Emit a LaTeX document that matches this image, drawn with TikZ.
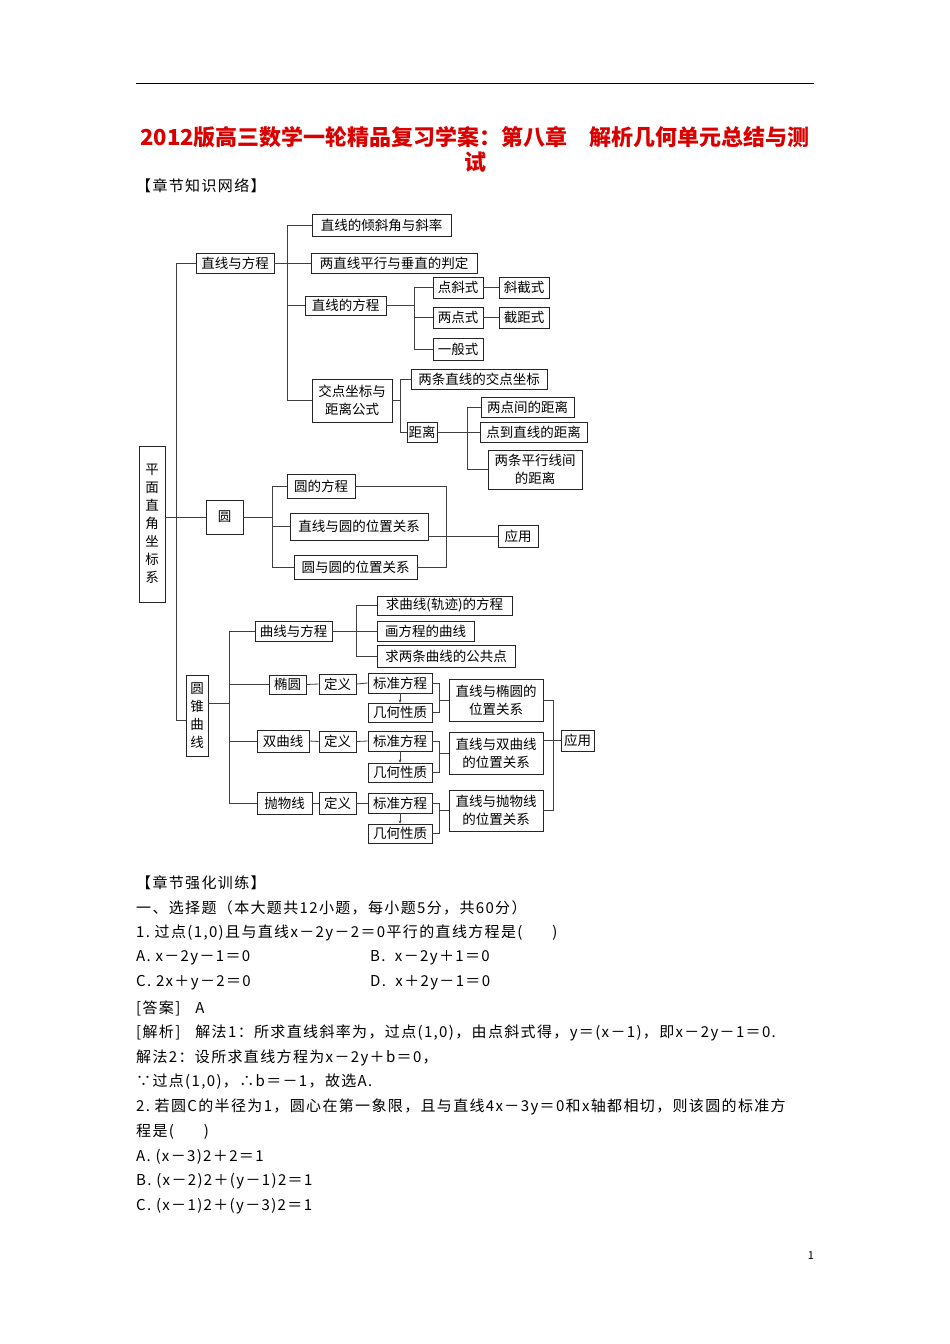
\documentclass[tikz,border=0pt]{standalone}
\usepackage{fontspec}
\setmainfont{Noto Sans CJK SC}
\newfontfamily\cjk{Noto Sans CJK SC}
\newfontfamily\cjkb{Noto Sans CJK SC}[LetterSpace=9]
\usetikzlibrary{arrows.meta}
\newcommand\B[6]{\node[bx,minimum width={(#4-#2)*1pt},minimum height={(#5-#3)*1pt}] (#1) at ({(#2+#4)/2},{(#3+#5)/2}) {#6};}
\begin{document}
\begin{tikzpicture}[x=1pt,y=-1pt,
  bx/.style={draw=black!85,line width=0.9pt,inner sep=1pt,align=center,font=\cjk\fontsize{13.5}{18}\selectfont},
  ln/.style={draw=black!75,line width=0.8pt},
  tx/.style={anchor=west,inner sep=0pt,font=\cjkb\fontsize{15}{16}\selectfont}]
\useasboundingbox (0,0) rectangle (950,1344);
\draw[line width=0.8pt] (136,83) -- (814,83);
\node[font=\cjk\fontsize{22}{24}\selectfont\bfseries,text=red!85!black,inner sep=0pt] (t1) at (475,137) {2012版高三数学一轮精品复习学案：第八章\quad 解析几何单元总结与测};
\node[font=\cjk\fontsize{22}{24}\selectfont\bfseries,text=red!85!black,inner sep=0pt] (t2) at (475,162) {试};
\node[tx] (h1) at (136,186) {【章节知识网络】};
% boxes
\B{PM}{139}{446}{165}{602}{平\\面\\直\\角\\坐\\标\\系}
\B{ZX}{196}{253}{274}{273}{直线与方程}
\B{Q1}{312}{214}{451}{236}{直线的倾斜角与斜率}
\B{Q2}{311}{253}{477}{273}{两直线平行与垂直的判定}
\B{FC}{305}{296}{386}{315}{直线的方程}
\B{DX}{433}{277}{483}{298}{点斜式}
\B{XJ}{499}{277}{549}{298}{斜截式}
\B{LD}{433}{307}{483}{328}{两点式}
\B{JJ}{499}{307}{549}{328}{截距式}
\B{YB}{433}{338}{483}{360}{一般式}
\B{JD}{312}{379}{392}{422}{交点坐标与\\距离公式}
\B{JL}{411}{369}{547}{389}{两条直线的交点坐标}
\B{JLs}{407}{422}{437}{442}{距离}
\B{D1}{481}{397}{574}{417}{两点间的距离}
\B{D2}{480}{422}{587}{442}{点到直线的距离}
\B{D3}{488}{450}{582}{489}{两条平行线间\\的距离}
\B{Y}{206}{500}{243}{534}{圆}
\B{Y1}{287}{474}{355}{498}{圆的方程}
\B{Y2}{290}{513}{428}{540}{直线与圆的位置关系}
\B{Y3}{294}{555}{417}{579}{圆与圆的位置关系}
\B{YY}{498}{525}{538}{547}{应用}
\B{ZZ}{186}{675}{208}{756}{圆\\锥\\曲\\线}
\B{QF}{255}{621}{332}{641}{曲线与方程}
\B{C1}{377}{596}{512}{615}{求曲线(轨迹)的方程}
\B{C2}{377}{621}{474}{641}{画方程的曲线}
\B{C3}{377}{645}{515}{667}{求两条曲线的公共点}
\B{TY}{269}{675}{306}{694}{椭圆}
\B{SQ}{257}{730}{309}{752}{双曲线}
\B{PW}{257}{792}{312}{814}{抛物线}
\B{DA}{319}{674}{356}{694}{定义}
\B{DB}{319}{731}{356}{752}{定义}
\B{DC}{319}{792}{356}{814}{定义}
\B{BA}{368}{673}{432}{693}{标准方程}
\B{BB}{368}{731}{432}{751}{标准方程}
\B{BC}{368}{793}{432}{813}{标准方程}
\B{GA}{368}{703}{432}{722}{几何性质}
\B{GB}{368}{763}{432}{782}{几何性质}
\B{GC}{368}{824}{432}{843}{几何性质}
\B{ZA}{449}{679}{543}{721}{直线与椭圆的\\位置关系}
\B{ZB}{449}{732}{543}{774}{直线与双曲线\\的位置关系}
\B{ZC}{449}{790}{543}{831}{直线与抛物线\\的位置关系}
\B{YY2}{561}{730}{594}{751}{应用}
% connectors
\coordinate (v0) at (176,0); \coordinate (v1) at (287,0); \coordinate (v2) at (414,0);
\coordinate (v3) at (400,0); \coordinate (v4) at (467,0); \coordinate (v5) at (272,0);
\coordinate (v6) at (446,0); \coordinate (v7) at (229,0); \coordinate (v8) at (356,0);
\coordinate (v9) at (439,0); \coordinate (v10) at (553,0);
\coordinate (ze) at ([yshift=12.5pt]ZZ.east);
\coordinate (zw) at ([yshift=-4.5pt]ZZ.west);
\draw[ln] (ZX.west) -| (v0|-zw) -- (zw);
\draw[ln] (PM.east|-Y.west) -- (Y.west);
\draw[ln] (Q1.west) -| (v1|-JD.west) -- (JD.west);
\draw[ln] (ZX.east) -- (Q2.west);
\draw[ln] (FC.west) -- (v1|-FC.west);
\draw[ln] (DX.west) -| (v2|-YB.west) -- (YB.west);
\draw[ln] (FC.east) -- (v2|-FC.east);
\draw[ln] (LD.west) -- (v2|-LD.west);
\draw[ln] (DX.east) -- (XJ.west); \draw[ln] (LD.east) -- (JJ.west);
\draw[ln] (JL.west) -| (v3|-JLs.west) -- (JLs.west);
\draw[ln] (JD.east) -- (v3|-JD.east);
\draw[ln] (D1.west) -| (v4|-D3.west) -- (D3.west);
\draw[ln] (JLs.east) -- (D2.west);
\draw[ln] (Y1.west) -| (v5|-Y3.west) -- (Y3.west);
\draw[ln] (Y.east) -- (v5|-Y.east);
\draw[ln] (v5|-Y2.west) -- (Y2.west);
\draw[ln] (Y1.east) -| (v6|-Y3.east) -- (Y3.east);
\draw[ln] (Y2.east|-YY.west) -- (YY.west);
\draw[ln] (QF.west) -| (v7|-PW.west) -- (PW.west);
\draw[ln] (ze) -- (v7|-ze);
\draw[ln] (TY.west) -- (v7|-TY.west);
\draw[ln] (SQ.west) -- (v7|-SQ.west);
\draw[ln] (C1.west) -| (v8|-C3.west) -- (C3.west);
\draw[ln] (QF.east) -- (C2.west);
\draw[ln] (TY.east) -- (DA.west); \draw[ln] (DA.east) -- (BA.west);
\draw[ln] (SQ.east) -- (DB.west); \draw[ln] (DB.east) -- (BB.west);
\draw[ln] (PW.east) -- (DC.west); \draw[ln] (DC.east) -- (BC.west);
\foreach \b/\g/\z in {BA/GA/ZA,BB/GB/ZB,BC/GC/ZC}{
  \draw[ln,-{Stealth[length=3pt,width=3pt]}] (\b.south) -- (\g.north);
  \draw[ln] (\b.east) -| (v9|-\g.east) -- (\g.east);
  \draw[ln] (v9|-\z.west) -- (\z.west);
}
\draw[ln] (ZA.east) -| (v10|-ZC.east) -- (ZC.east);
\draw[ln] (ZB.east|-YY2.west) -- (YY2.west);
% text
\node[tx] (h2) at (136,883) {【章节强化训练】};
\node[tx] (l1) at (136,908) {一、选择题（本大题共12小题，每小题5分，共60分）};
\node[tx] (l2) at (136,933) {1.\ 过点(1,0)且与直线x－2y－2＝0平行的直线方程是(\quad\quad)};
\node[tx] (l3a) at (136,958) {A.\ x－2y－1＝0};
\node[tx] (l3b) at (370,958) {B.\ \ x－2y＋1＝0};
\node[tx] (l4a) at (136,983) {C.\ 2x＋y－2＝0};
\node[tx] (l4b) at (370,983) {D.\ \ x＋2y－1＝0};
\node[tx] (l5) at (136,1008) {[答案]\quad A};
\node[tx] (l6) at (136,1033) {[解析]\quad 解法1：所求直线斜率为，过点(1,0)，由点斜式得，y＝(x－1)，即x－2y－1＝0.};
\node[tx] (l7) at (136,1058) {解法2：设所求直线方程为x－2y＋b＝0，};
\node[tx] (l8) at (136,1082) {∵过点(1,0)，∴b＝－1，故选A.};
\node[tx] (l9) at (136,1107) {2.\ 若圆C的半径为1，圆心在第一象限，且与直线4x－3y＝0和x轴都相切，则该圆的标准方};
\node[tx] (l10) at (136,1132) {程是(\quad\quad)};
\node[tx] (l11) at (136,1157) {A.\ (x－3)2＋2＝1};
\node[tx] (l12) at (136,1181) {B.\ (x－2)2＋(y－1)2＝1};
\node[tx] (l13) at (136,1206) {C.\ (x－1)2＋(y－3)2＝1};
\node[font=\cjk\fontsize{11}{12}\selectfont,inner sep=0pt] (pg) at (811,1256) {1};
\end{tikzpicture}
\end{document}
